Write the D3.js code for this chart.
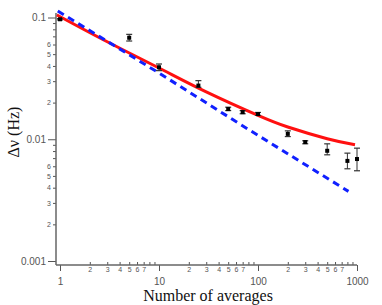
<!DOCTYPE html>
<html>
<head>
<meta charset="utf-8">
<script src="https://cdn.jsdelivr.net/npm/d3@7/dist/d3.min.js"></script>
<style>
  body { margin: 0; background: #fff; }
  svg { display: block; }
  .tick text { font-family: "Liberation Sans", Arial, sans-serif; fill: #555; }
  .title { font-family: "Liberation Serif", "Times New Roman", serif; font-size: 16px; fill: #111; }
</style>
</head>
<body>
<svg id="chart" width="382" height="305"></svg>
<script>
(() => {
  // measured points with error bars
  const averages = [1, 5, 10, 25, 50, 70, 100, 200, 300, 500, 800, 1000];
  const deviation = [0.0967, 0.0682, 0.0390, 0.0276, 0.0177, 0.0167, 0.0161, 0.01107, 0.00948, 0.00804, 0.00664, 0.00688];
  const devLow = [0.0955, 0.0641, 0.0366, 0.0267, 0.0172, 0.0162, 0.0157, 0.01052, 0.00918, 0.00745, 0.00572, 0.00551];
  const devHigh = [0.0979, 0.0727, 0.0415, 0.0303, 0.01833, 0.0172, 0.0166, 0.01172, 0.00972, 0.00917, 0.00769, 0.00845];

  // red model curve
  const redN = [0.93, 3, 10, 30, 100, 200, 500, 955];
  const redDev = [0.105, 0.0632, 0.0385, 0.0245, 0.0157, 0.0126, 0.0101, 0.0090];

  // blue dashed curve
  const blueN = [0.95, 10, 71, 820];
  const blueDev = [0.113, 0.0350, 0.0128, 0.00373];

  const xMajor = [1, 10, 100, 1000];
  const yMajor = [0.001, 0.01, 0.1];

  const svg = d3.select("#chart");

  const x = d3.scaleLog().domain([1, 1000]).range([60, 357]);
  const y = d3.scaleLog().domain([0.001, 0.1]).range([261, 17.5]);

  const axisX = 56, axisY = 265;

  const minorsX = [];
  [1, 10, 100].forEach(d => { for (let k = 2; k <= 9; k++) minorsX.push(d * k); });
  const minorsY = [];
  [0.001, 0.01].forEach(d => { for (let k = 2; k <= 9; k++) minorsY.push(d * k); });

  const mantissa = d => Math.round(d / Math.pow(10, Math.floor(Math.log10(d) + 1e-9)));
  const minorFmt = d => mantissa(d) <= 7 ? String(mantissa(d)) : "";
  const minorFmtY = d => mantissa(d) <= 6 ? String(mantissa(d)) : "";

  // x axis: minor ticks up, major down
  const gx = svg.append("g").attr("transform", "translate(0," + axisY + ")");
  gx.append("g")
    .call(d3.axisBottom(x).tickValues(minorsX).tickSize(-3).tickPadding(2).tickFormat(minorFmt))
    .call(g => g.select(".domain").remove())
    .call(g => g.selectAll("text").attr("font-size", 7).attr("dy", "0.75em"));
  gx.append("g")
    .call(d3.axisBottom(x).tickValues(xMajor).tickSize(6).tickPadding(7).tickFormat(d3.format("d")))
    .call(g => g.select(".domain").remove())
    .call(g => g.selectAll("text").attr("font-size", 10));
  gx.selectAll("line").attr("stroke", "#555");
  gx.append("line")
    .attr("x1", axisX).attr("x2", x(1000))
    .attr("stroke", "#666").attr("stroke-width", 1.5);

  // y axis
  const gy = svg.append("g").attr("transform", "translate(" + axisX + ",0)");
  gy.append("g")
    .call(d3.axisLeft(y).tickValues(minorsY).tickSize(3).tickPadding(2).tickFormat(minorFmtY))
    .call(g => g.select(".domain").remove())
    .call(g => g.selectAll("text").attr("font-size", 7));
  gy.append("g")
    .call(d3.axisLeft(y).tickValues(yMajor).tickSize(8).tickPadding(2).tickFormat(d => String(d)))
    .call(g => g.select(".domain").remove())
    .call(g => g.selectAll("text").attr("font-size", 10));
  gy.selectAll("line").attr("stroke", "#555");
  gy.append("line")
    .attr("y1", 13).attr("y2", axisY)
    .attr("stroke", "#666").attr("stroke-width", 1.5);

  // curves
  const line = d3.line()
    .x(d => x(d[0]))
    .y(d => y(d[1]));

  svg.append("path")
    .datum(redN.map((n, i) => [n, redDev[i]]))
    .attr("d", line.curve(d3.curveNatural))
    .attr("fill", "none")
    .attr("stroke", "#ff1010")
    .attr("stroke-width", 3);

  svg.append("path")
    .datum(blueN.map((n, i) => [n, blueDev[i]]))
    .attr("d", line.curve(d3.curveLinear))
    .attr("fill", "none")
    .attr("stroke", "#1020ff")
    .attr("stroke-width", 3)
    .attr("stroke-dasharray", "7,5");

  // error bars and points
  const pts = averages.map((n, i) => ({ n: n, v: deviation[i], lo: devLow[i], hi: devHigh[i] }));
  const eb = svg.append("g").selectAll("g").data(pts).enter().append("g");
  eb.append("line")
    .attr("x1", d => x(d.n)).attr("x2", d => x(d.n))
    .attr("y1", d => y(d.hi)).attr("y2", d => y(d.lo))
    .attr("stroke", "#333").attr("stroke-width", 1);
  ["hi", "lo"].forEach(k => {
    eb.append("line")
      .attr("x1", d => x(d.n) - 3).attr("x2", d => x(d.n) + 3)
      .attr("y1", d => y(d[k])).attr("y2", d => y(d[k]))
      .attr("stroke", "#333").attr("stroke-width", 1.2);
  });
  eb.append("rect")
    .attr("x", d => x(d.n) - 2).attr("y", d => y(d.v) - 2)
    .attr("width", 4).attr("height", 4)
    .attr("fill", "#000");

  // axis titles
  svg.append("text")
    .attr("class", "title")
    .attr("transform", "translate(19,132) rotate(-90)")
    .attr("text-anchor", "middle")
    .text("Δν (Hz)");

  svg.append("text")
    .attr("class", "title")
    .attr("x", 208)
    .attr("y", 301)
    .attr("text-anchor", "middle")
    .text("Number of averages");
})();
</script>
</body>
</html>
